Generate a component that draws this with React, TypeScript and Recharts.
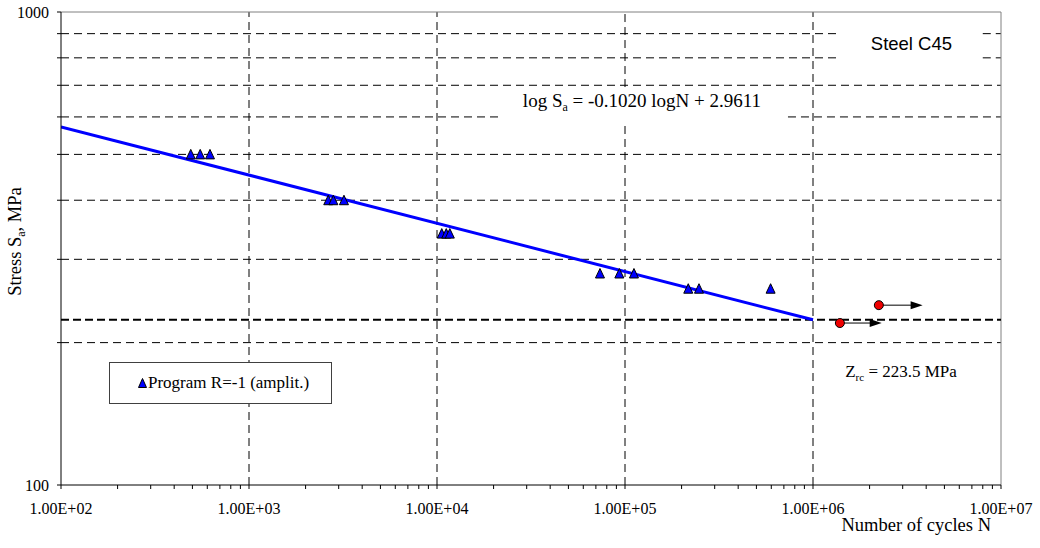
import React from 'react';
import {
  ComposedChart,
  XAxis,
  YAxis,
  Scatter,
  Line,
  ReferenceLine,
  ReferenceArea,
  ReferenceDot,
  Legend,
} from 'recharts';

const SERIF = '"Liberation Serif", "Times New Roman", serif';
const SANS = '"Liberation Sans", Arial, sans-serif';

// fatigue test results, program loading R=-1 (amplitudes)
const programCycles = [490, 550, 620, 2640, 2810, 3200, 10600, 11200, 11700, 73600, 93300, 111600, 217000, 247500, 595000];
const programStress = [500, 500, 500, 400, 400, 400, 340, 340, 340, 280, 280, 280, 260, 260, 260];

// run-outs (no failure), arrow goes to the right
const runoutCycles = [1.39e6, 2.24e6];
const runoutStress = [220, 240];
const runoutArrowEnd = [2.32e6, 3.83e6];

// fitted line: log Sa = -0.1020 logN + 2.9611
const fitCycles = [100, 1e6];
const fitStress = [571.6, 223.5];

const fatigueLimit = 223.5;

const decades = [1e2, 1e3, 1e4, 1e5, 1e6, 1e7];
const stressGrid = [200, 300, 400, 500, 600, 700, 800, 900];
const stressTicks = [100, 200, 300, 400, 500, 600, 700, 800, 900, 1000];
const stressLabels = [100, 1000];

const seriesName = 'Program R=-1 (amplit.)';

// white text boxes that hide the grid (data coords)
const equationBox = { x1: 21900, x2: 736000, y1: 580, y2: 694 };
const steelBox = { x1: 1.36e6, x2: 8.0e6, y1: 754, y2: 961 };
const cutouts = [equationBox, steelBox];

const programData = programCycles.map((n, i) => ({ N: n, S: programStress[i] }));
const runoutData = runoutCycles.map((n, i) => ({ N: n, S: runoutStress[i] }));
const fitData = fitCycles.map((n, i) => ({ N: n, S: fitStress[i] }));

const cycleTicks: number[] = [];
decades.forEach((d, i) => {
  cycleTicks.push(d);
  if (i < decades.length - 1) {
    for (let k = 2; k <= 9; k++) cycleTicks.push(d * k);
  }
});

const isDecade = (v: number) => Math.abs(Math.log10(v) - Math.round(Math.log10(v))) < 1e-9;
const fmtCycles = (v: number) => {
  if (!isDecade(v)) return '';
  const e = Math.round(Math.log10(v));
  return `1.00E+${String(e).padStart(2, '0')}`;
};

// split a grid line into pieces that skip the text boxes
const splitRange = (lo: number, hi: number, holes: number[][]) => {
  let parts = [[lo, hi]];
  holes.forEach(([a, b]) => {
    parts = parts.flatMap(([p, q]) => {
      if (b <= p || a >= q) return [[p, q]];
      const out: number[][] = [];
      if (a > p) out.push([p, a]);
      if (b < q) out.push([b, q]);
      return out;
    });
  });
  return parts;
};
const hParts = (s: number) =>
  splitRange(100, 1e7, cutouts.filter((b) => s >= b.y1 && s <= b.y2).map((b) => [b.x1, b.x2]));
const vParts = (n: number) =>
  splitRange(100, 1000, cutouts.filter((b) => n >= b.x1 && n <= b.x2).map((b) => [b.y1, b.y2]));

const Triangle = ({ cx, cy }: any) => (
  <polygon
    points={`${cx},${cy - 5} ${cx - 4.5},${cy + 4.5} ${cx + 4.5},${cy + 4.5}`}
    fill="#0000ff"
    stroke="#000"
    strokeWidth={1}
  />
);

const RunoutDot = ({ cx, cy }: any) => <circle cx={cx} cy={cy} r={4.5} fill="#ee0000" stroke="#000" strokeWidth={1} />;

const Arrow = ({ x1, y1, x2, y2 }: any) => (
  <g>
    <line x1={x1} y1={y1} x2={x2 - 10} y2={y2} stroke="#000" strokeWidth={1} />
    <polygon points={`${x2},${y2} ${x2 - 12},${y2 - 4} ${x2 - 12},${y2 + 4}`} fill="#000" />
  </g>
);

const YTitle = ({ viewBox }: any) => {
  const x = 21;
  const y = viewBox.y + viewBox.height / 2 - 7;
  return (
    <text x={x} y={y} transform={`rotate(-90, ${x}, ${y})`} textAnchor="middle" fontFamily={SERIF} fontSize={18.5} fill="#000">
      Stress S<tspan dy={4} fontSize={12}>a</tspan>
      <tspan dy={-4}>, MPa</tspan>
    </text>
  );
};

const XTitle = ({ viewBox }: any) => (
  <text x={viewBox.x + viewBox.width - 10} y={viewBox.y + 46} textAnchor="end" fontFamily={SERIF} fontSize={18.5} fill="#000">
    Number of cycles N
  </text>
);

const EquationText = ({ viewBox }: any) => (
  <text x={viewBox.x + viewBox.width / 2 - 2.5} y={viewBox.y + 19.5} textAnchor="middle" fontFamily={SERIF} fontSize={19} fill="#000">
    log S<tspan dy={4} fontSize={12}>a</tspan>
    <tspan dy={-4}> = -0.1020 logN + 2.9611</tspan>
  </text>
);

const SteelText = ({ viewBox }: any) => (
  <text x={viewBox.x + viewBox.width / 2 + 1} y={viewBox.y + 30} textAnchor="middle" fontFamily={SANS} fontSize={18.5} fill="#000">
    Steel C45
  </text>
);

const LimitText = ({ viewBox }: any) => (
  <text x={viewBox.x} y={viewBox.y} textAnchor="middle" fontFamily={SERIF} fontSize={17} fill="#000">
    Z<tspan dy={4} fontSize={11}>rc</tspan>
    <tspan dy={-4}> = {fatigueLimit} MPa</tspan>
  </text>
);

const LegendBox = () => (
  <div style={{ display: 'flex', alignItems: 'center', height: '100%', paddingLeft: 28, fontFamily: SERIF, fontSize: 17, color: '#000' }}>
    <svg width={9} height={10} style={{ marginRight: 1 }}>
      <polygon points="4.5,0.5 0.5,9.5 8.5,9.5" fill="#0000ff" stroke="#000" strokeWidth={1} />
    </svg>
    <span>{seriesName}</span>
  </div>
);

export default function App() {
  return (
    <div style={{ position: 'fixed', left: 0, top: 0, background: '#fff' }}>
      <ComposedChart width={1040} height={548} margin={{ top: 12, right: 39, bottom: 0, left: 0 }}>
        <XAxis
          dataKey="N"
          type="number"
          scale="log"
          domain={[100, 1e7]}
          allowDataOverflow
          ticks={cycleTicks}
          interval={0}
          tickFormatter={fmtCycles}
          tickSize={4}
          tickMargin={14}
          height={63}
          axisLine={{ stroke: '#000' }}
          tickLine={{ stroke: '#000' }}
          tick={{ fill: '#000', fontSize: 16, fontFamily: SERIF }}
          label={{ content: XTitle }}
        />
        <YAxis
          dataKey="S"
          type="number"
          scale="log"
          domain={[100, 1000]}
          allowDataOverflow
          ticks={stressTicks}
          interval={0}
          tickFormatter={(v: number) => (stressLabels.includes(v) ? String(v) : '')}
          tickSize={4}
          tickMargin={8}
          width={61}
          axisLine={{ stroke: '#000' }}
          tickLine={{ stroke: '#000' }}
          tick={{ fill: '#000', fontSize: 16, fontFamily: SERIF }}
          label={{ content: YTitle }}
        />

        <ReferenceArea {...equationBox} fill="#fff" fillOpacity={1} stroke="none" label={{ content: EquationText }} />
        <ReferenceArea {...steelBox} fill="#fff" fillOpacity={1} stroke="none" label={{ content: SteelText }} />

        {stressGrid.flatMap((s) =>
          hParts(s).map(([a, b]) => (
            <ReferenceLine
              key={`h${s}-${a}`}
              segment={[{ x: a, y: s }, { x: b, y: s }]}
              stroke="#000"
              strokeWidth={1}
              strokeDasharray="8 5"
            />
          )),
        )}
        {decades.slice(1, -1).flatMap((n) =>
          vParts(n).map(([a, b]) => (
            <ReferenceLine
              key={`v${n}-${a}`}
              segment={[{ x: n, y: a }, { x: n, y: b }]}
              stroke="#000"
              strokeWidth={1}
              strokeDasharray="8 5"
            />
          )),
        )}
        <ReferenceLine y={1000} stroke="#808080" strokeWidth={1} />
        <ReferenceLine x={1e7} stroke="#808080" strokeWidth={1} />

        <ReferenceLine y={fatigueLimit} stroke="#000" strokeWidth={2} strokeDasharray="8 4" />
        <ReferenceDot x={2.94e6} y={168.8} r={0} fill="none" stroke="none" label={{ content: LimitText }} />

        {runoutCycles.map((n, i) => (
          <ReferenceLine
            key={`a${i}`}
            segment={[{ x: n, y: runoutStress[i] }, { x: runoutArrowEnd[i], y: runoutStress[i] }]}
            shape={Arrow}
          />
        ))}

        <Line data={fitData} dataKey="S" stroke="#0000ff" strokeWidth={3} dot={false} legendType="none" isAnimationActive={false} />
        <Scatter name={seriesName} data={programData} shape={Triangle} isAnimationActive={false} />
        <Scatter data={runoutData} shape={RunoutDot} legendType="none" isAnimationActive={false} />

        <Legend
          layout="horizontal"
          align="center"
          verticalAlign="middle"
          content={LegendBox}
          wrapperStyle={{
            left: 109,
            top: 362,
            width: 223,
            height: 42,
            border: '1px solid #404040',
            background: '#fff',
            boxSizing: 'border-box',
          }}
        />
      </ComposedChart>
    </div>
  );
}
